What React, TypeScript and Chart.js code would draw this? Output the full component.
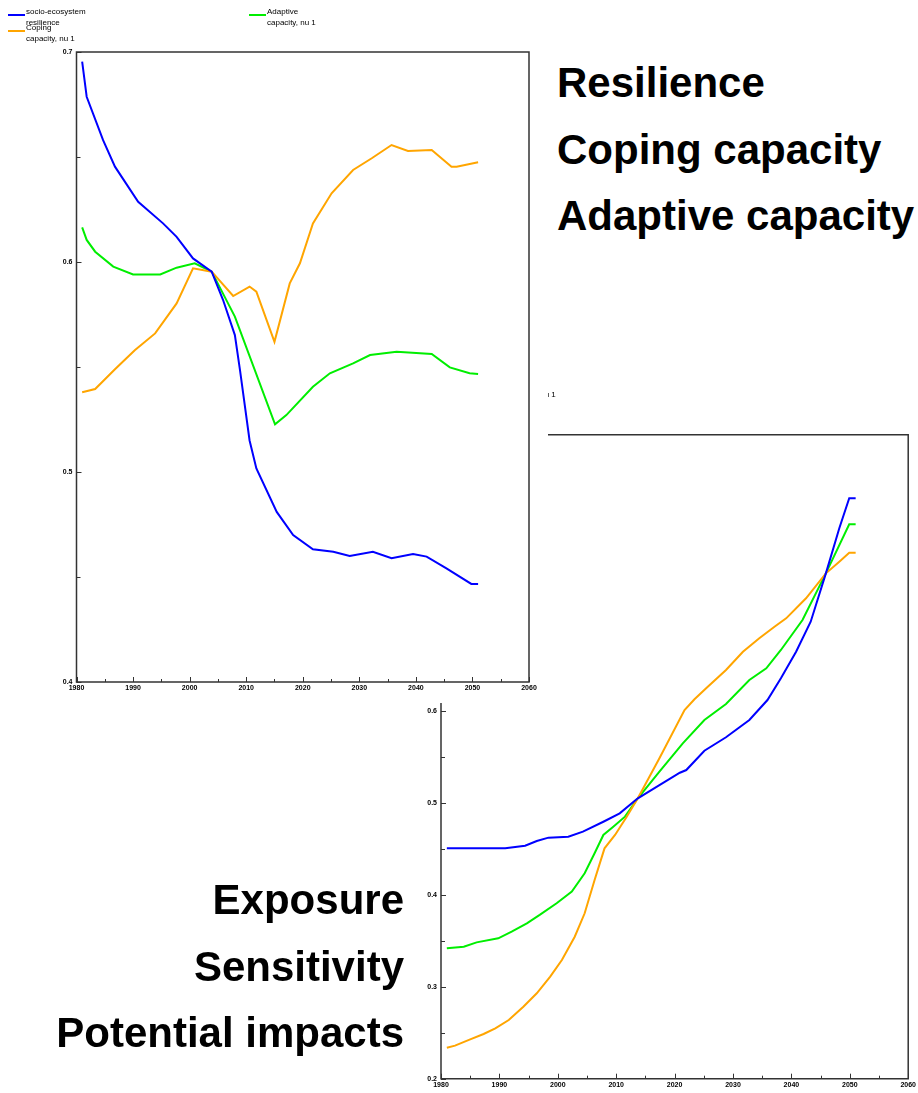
import React, { useEffect, useRef } from "react";
import { Chart, registerables } from "chart.js";

Chart.register(...registerables);

// ---------- Chart 1 (top): resilience / coping / adaptive ----------
const blueYears1 = [1981, 1981.8, 1984.7, 1986.8, 1990.9, 1995.3, 1997.7, 2000.6, 2003.9, 2005.9, 2008.0, 2008.9, 2010.6, 2011.8, 2015.4, 2018.3, 2021.8, 2025.4, 2028.3, 2032.4, 2035.7, 2039.5, 2041.9, 2045.4, 2049.8, 2051];
const blueValues1 = [0.6954, 0.6787, 0.658, 0.6454, 0.6287, 0.6184, 0.612, 0.6017, 0.5954, 0.582, 0.5652, 0.5486, 0.515, 0.5017, 0.481, 0.47, 0.4632, 0.462, 0.46, 0.462, 0.4589, 0.461, 0.4597, 0.4541, 0.4467, 0.4467];

const greenYears1 = [1981, 1981.8, 1983.3, 1986.5, 1990, 1994.8, 1997.7, 2000.9, 2003.9, 2008, 2015.1, 2017.1, 2021.8, 2024.8, 2028.9, 2031.9, 2036.6, 2042.8, 2046, 2049.5, 2051];
const greenValues1 = [0.6165, 0.6105, 0.6049, 0.5978, 0.5941, 0.5941, 0.5973, 0.5994, 0.5954, 0.574, 0.5227, 0.5271, 0.5406, 0.547, 0.5517, 0.5557, 0.5573, 0.5562, 0.5498, 0.547, 0.5467];

const orangeYears1 = [1981, 1983.3, 1986.8, 1990.3, 1993.9, 1997.7, 2000.6, 2003.9, 2007.7, 2010.6, 2011.8, 2015, 2017.7, 2019.5, 2021.8, 2025.1, 2028.9, 2032.2, 2035.7, 2038.6, 2042.8, 2046.3, 2047.2, 2051];
const orangeValues1 = [0.538, 0.5395, 0.5489, 0.558, 0.566, 0.5803, 0.597, 0.5954, 0.5838, 0.5883, 0.5859, 0.562, 0.5898, 0.5994, 0.6184, 0.6327, 0.6438, 0.6494, 0.6557, 0.6529, 0.6533, 0.6454, 0.6454, 0.6475];

// ---------- Chart 2 (bottom): exposure / sensitivity / impacts ----------
const blueYears2 = [1981, 1991, 1994.4, 1996.4, 1998.4, 2001.8, 2004.3, 2007.8, 2010.6, 2013.7, 2017.4, 2020.9, 2022, 2025.1, 2028.8, 2032.8, 2035.9, 2038.2, 2040.8, 2043.3, 2045.9, 2048.2, 2049.9, 2051];
const blueValues2 = [0.4504, 0.4504, 0.4533, 0.4584, 0.462, 0.463, 0.4685, 0.4793, 0.4884, 0.5048, 0.5192, 0.5326, 0.5355, 0.5565, 0.5711, 0.5899, 0.6116, 0.6352, 0.6641, 0.6967, 0.7493, 0.7983, 0.8309, 0.8309];

const greenYears2 = [1981, 1983.9, 1986.1, 1989.8, 1992.1, 1994.7, 1996.9, 1999.8, 2002.4, 2004.6, 2006.3, 2007.8, 2009.5, 2011.5, 2013.7, 2017.4, 2021.4, 2025.1, 2028.8, 2032.8, 2035.7, 2038.2, 2041.9, 2045.9, 2049.9, 2051];
const greenValues2 = [0.3417, 0.3435, 0.3482, 0.3526, 0.3598, 0.3689, 0.378, 0.3907, 0.4033, 0.4233, 0.445, 0.4649, 0.4739, 0.4848, 0.5048, 0.5337, 0.5645, 0.5899, 0.6073, 0.6334, 0.6461, 0.666, 0.6986, 0.7493, 0.8026, 0.8026];

const orangeYears2 = [1981, 1982.4, 1985, 1987.3, 1989.3, 1991.6, 1994.1, 1996.4, 1998.7, 2000.7, 2002.9, 2004.6, 2006.3, 2008, 2009.8, 2011.8, 2013.7, 2017.4, 2021.7, 2023.4, 2025.4, 2028.8, 2031.7, 2034.5, 2037.1, 2039.1, 2042.5, 2045.9, 2048.2, 2049.9, 2051];
const orangeValues2 = [0.2337, 0.2359, 0.2428, 0.2486, 0.2548, 0.2638, 0.2783, 0.2928, 0.3109, 0.329, 0.3543, 0.3798, 0.416, 0.4504, 0.4649, 0.4848, 0.5048, 0.5483, 0.6008, 0.6124, 0.6243, 0.6442, 0.6641, 0.6787, 0.6913, 0.7004, 0.7222, 0.7493, 0.762, 0.7717, 0.7717];

const xMin = 1980;
const xMax = 2060;
const y1Min = 0.4;
const y1Max = 0.7;
const y2Min = 0.2;
const y2Max = 0.9;

const legendLabels = {
  blue: ["socio-ecosystem", "resilience"],
  orange: ["Coping", "capacity, nu 1"],
  green: ["Adaptive", "capacity, nu 1"],
};

const topLabels = ["Resilience", "Coping capacity", "Adaptive capacity"];
const bottomLabels = ["Exposure", "Sensitivity", "Potential impacts"];

const BLUE = "#0000ff";
const GREEN = "#00ee00";
const ORANGE = "#ffa500";

const tickFont = { family: "'Liberation Sans Narrow', 'Liberation Sans', Arial, sans-serif", size: 7, weight: "bold" };

const toPoints = (xs: number[], ys: number[]) => xs.map((x, i) => ({ x, y: ys[i] }));

const whiteBg = {
  id: "whiteBg",
  beforeDraw(chart: any) {
    const { ctx, width, height } = chart;
    ctx.save();
    ctx.fillStyle = "#fff";
    ctx.fillRect(0, 0, width, height);
    ctx.restore();
  },
};

const frameTicks = {
  id: "frameTicks",
  afterDraw(chart: any) {
    const { ctx, chartArea: a, scales } = chart;
    const x = scales.x;
    const y = scales.y;
    ctx.save();
    ctx.strokeStyle = "#333";
    ctx.lineWidth = 1.5;
    ctx.beginPath();
    ctx.rect(a.left, a.top, a.right - a.left, a.bottom - a.top);
    ctx.stroke();
    ctx.lineWidth = 1;
    ctx.beginPath();
    x.ticks.forEach((t: any) => {
      const px = Math.round(x.getPixelForValue(t.value)) + 0.5;
      const len = t.value % 10 === 0 ? 5 : 3;
      ctx.moveTo(px, a.bottom);
      ctx.lineTo(px, a.bottom - len);
    });
    y.ticks.forEach((t: any) => {
      const py = Math.round(y.getPixelForValue(t.value)) + 0.5;
      const major = Math.abs(t.value * 10 - Math.round(t.value * 10)) < 1e-6;
      const len = major ? 5 : 4;
      ctx.moveTo(a.left, py);
      ctx.lineTo(a.left + len, py);
    });
    ctx.stroke();
    ctx.restore();
  },
};

function makeConfig(series: any[], yMin: number, yMax: number, dims: any) {
  return {
    type: "line",
    data: {
      datasets: series.map((s) => ({
        data: toPoints(s.years, s.values),
        borderColor: s.color,
        borderWidth: 2,
        pointRadius: 0,
        fill: false,
        tension: 0,
      })),
    },
    options: {
      responsive: false,
      animation: false,
      events: [],
      layout: { padding: dims.padding },
      plugins: { legend: { display: false }, tooltip: { enabled: false } },
      scales: {
        x: {
          type: "linear",
          min: xMin,
          max: xMax,
          grid: { display: false, drawTicks: false },
          border: { display: false },
          ticks: {
            stepSize: 5,
            autoSkip: false,
            maxRotation: 0,
            padding: 2,
            font: tickFont,
            color: "#000",
            callback: (v: number) => (v % 10 === 0 ? String(v) : ""),
          },
          afterFit: (s: any) => {
            s.height = dims.xh;
          },
        },
        y: {
          type: "linear",
          min: yMin,
          max: yMax,
          grid: { display: false, drawTicks: false },
          border: { display: false },
          ticks: {
            stepSize: 0.05,
            autoSkip: false,
            padding: 4,
            font: tickFont,
            color: "#000",
            callback: (v: number) =>
              Math.abs(v * 10 - Math.round(v * 10)) < 1e-6 ? v.toFixed(1) : "",
          },
          afterFit: (s: any) => {
            s.width = dims.yw;
          },
        },
      },
    },
    plugins: [whiteBg, frameTicks],
  } as any;
}

const legendFont: React.CSSProperties = {
  fontFamily: "'Liberation Sans', Arial, sans-serif",
  fontSize: 8,
  lineHeight: "11px",
  color: "#000",
  whiteSpace: "nowrap",
  position: "absolute",
};

function Legend({ left, top }: { left: number; top: number }) {
  const item = (color: string, lines: string[], x: number, y: number) => (
    <>
      <div style={{ position: "absolute", left: left + x, top: top + y + 8, width: 17, height: 2, background: color }} />
      <div style={{ ...legendFont, left: left + x + 18, top: top + y }}>
        {lines.map((l, i) => (
          <div key={i}>{l}</div>
        ))}
      </div>
    </>
  );
  return (
    <>
      {item(BLUE, legendLabels.blue, 0, 0)}
      {item(ORANGE, legendLabels.orange, 0, 16)}
      {item(GREEN, legendLabels.green, 241, 0)}
    </>
  );
}

const bigText: React.CSSProperties = {
  position: "absolute",
  fontFamily: "'Liberation Sans', Arial, sans-serif",
  fontWeight: "bold",
  fontSize: 42,
  lineHeight: "42px",
  color: "#000",
  whiteSpace: "nowrap",
};

export default function App() {
  const ref1 = useRef<HTMLCanvasElement>(null);
  const ref2 = useRef<HTMLCanvasElement>(null);

  useEffect(() => {
    const c1 = new Chart(
      ref1.current as HTMLCanvasElement,
      makeConfig(
        [
          { years: blueYears1, values: blueValues1, color: BLUE },
          { years: orangeYears1, values: orangeValues1, color: ORANGE },
          { years: greenYears1, values: greenValues1, color: GREEN },
        ],
        y1Min,
        y1Max,
        { padding: { left: 0, top: 52, right: 19, bottom: 9 }, yw: 76.5, xh: 12 }
      )
    );
    const c2 = new Chart(
      ref2.current as HTMLCanvasElement,
      makeConfig(
        [
          { years: blueYears2, values: blueValues2, color: BLUE },
          { years: orangeYears2, values: orangeValues2, color: ORANGE },
          { years: greenYears2, values: greenValues2, color: GREEN },
        ],
        y2Min,
        y2Max,
        { padding: { left: 0, top: 64.7, right: 9, bottom: 4.3 }, yw: 61, xh: 10 }
      )
    );
    return () => {
      c1.destroy();
      c2.destroy();
    };
  }, []);

  const topBaselines = [97, 164, 230];
  const bottomBaselines = [914, 981, 1047];

  return (
    <div style={{ position: "absolute", left: 0, top: 0, width: 918, height: 1093, background: "#fff", overflow: "hidden" }}>
      {/* bottom chart */}
      <div style={{ position: "absolute", left: 0, top: 0, zIndex: 1 }}>
        <canvas ref={ref2} width={538} height={723} style={{ position: "absolute", left: 380, top: 370, width: 538, height: 723 }} />
        <Legend left={248} top={378} />
      </div>
      {/* top chart (white panel covering part of the bottom one) */}
      <div style={{ position: "absolute", left: 0, top: 0, width: 548, height: 703, zIndex: 2, background: "#fff" }}>
        <canvas ref={ref1} width={548} height={703} style={{ position: "absolute", left: 0, top: 0, width: 548, height: 703 }} />
        <Legend left={8} top={6} />
      </div>
      {topLabels.map((t, i) => (
        <div key={t} style={{ ...bigText, left: 557, top: topBaselines[i] - 35.5, zIndex: 3 }}>
          {t}
        </div>
      ))}
      {bottomLabels.map((t, i) => (
        <div key={t} style={{ ...bigText, left: 0, width: 404, textAlign: "right", top: bottomBaselines[i] - 35.5, zIndex: 3 }}>
          {t}
        </div>
      ))}
    </div>
  );
}
